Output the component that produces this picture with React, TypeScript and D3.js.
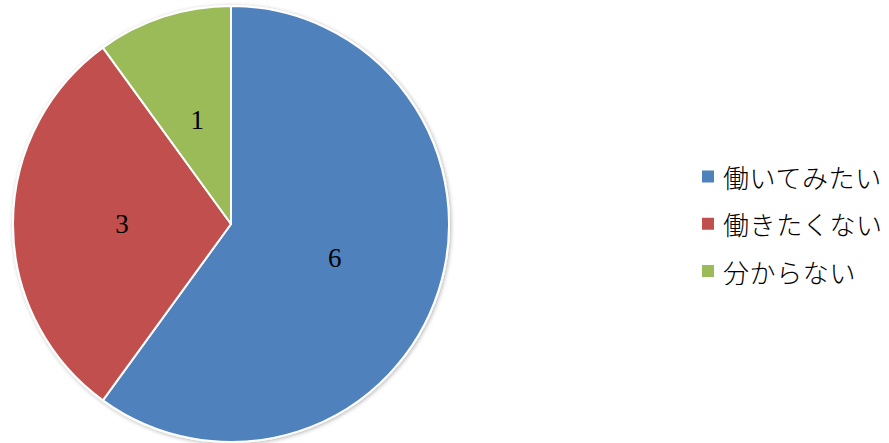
import React from "react";
import * as d3 from "d3";

const categories = ["働いてみたい", "働きたくない", "分からない"];
const values = [6, 3, 1];
const colors = ["#4F81BD", "#C0504D", "#9BBB59"];

const W = 889;
const H = 443;
const cx = 231;
const cy = 224;
const R = 218;

export default function App() {
  const pie = d3.pie<number>().sort(null).value((d) => d)(values);
  const arc = d3.arc<d3.PieArcDatum<number>>().innerRadius(0).outerRadius(R);
  const color = d3.scaleOrdinal<string, string>().domain(categories).range(colors);
  const legendY = d3.scalePoint<string>().domain(categories).range([176.5, 271]);

  return (
    <svg width={W} height={H} style={{ position: "absolute", left: 0, top: 0, background: "#fff" }}>
      <defs>
        <filter id="sh" x="-10%" y="-10%" width="120%" height="120%">
          <feGaussianBlur in="SourceAlpha" stdDeviation="2" />
          <feOffset dx="1" dy="1" result="b" />
          <feComponentTransfer>
            <feFuncA type="linear" slope="0.3" />
          </feComponentTransfer>
          <feMerge>
            <feMergeNode />
            <feMergeNode in="SourceGraphic" />
          </feMerge>
        </filter>
      </defs>
      <g transform={`translate(${cx},${cy})`}>
        <g filter="url(#sh)">
          {pie.map((p, i) => (
            <path key={i} d={arc(p) || ""} fill={color(categories[i])} stroke="#fff" strokeWidth={2} strokeLinejoin="round" />
          ))}
        </g>
        {pie.map((p, i) => {
          const [x, y] = arc.centroid(p);
          return (
            <text key={i} x={x} y={y} textAnchor="middle" dominantBaseline="central" fontFamily="'Liberation Serif', 'DejaVu Serif', serif" fontSize={27} fill="#000">
              {values[i]}
            </text>
          );
        })}
      </g>
      {categories.map((c, i) => {
        const y = legendY(c) as number;
        return (
          <g key={c}>
            <rect x={702} y={y - 6} width={12} height={12} fill={color(c)} />
            <text x={723} y={y} dominantBaseline="central" fontFamily="'Noto Sans CJK JP', sans-serif" fontWeight={300} fontSize={26} letterSpacing={0.6} fill="#000">
              {c}
            </text>
          </g>
        );
      })}
    </svg>
  );
}
